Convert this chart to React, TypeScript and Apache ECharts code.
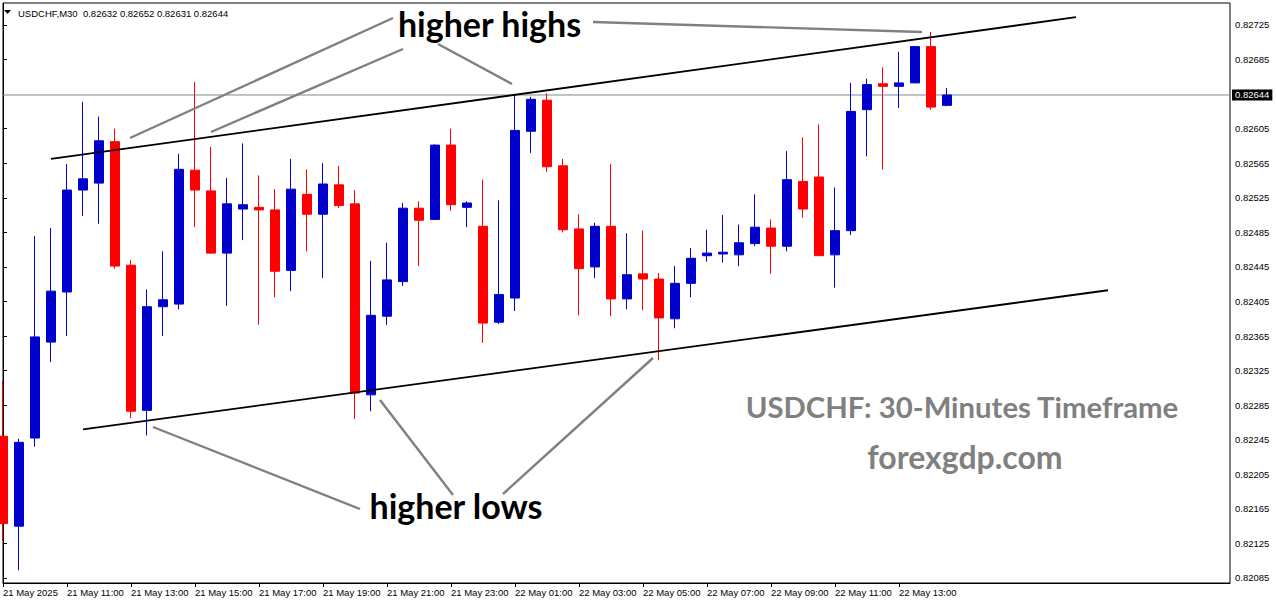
import React, { useEffect, useRef } from 'react';
import * as echarts from 'echarts';

// ---- data ----
const headerText = 'USDCHF,M30  0.82632 0.82652 0.82631 0.82644';
const currentPrice = 0.82644;

const opens = [0.82249,0.82145,0.82247,0.82358,0.82416,0.82534,0.82542,0.82590,0.82447,0.82279,0.82399,0.82402,0.82557,0.82533,0.82461,0.82512,0.82514,0.82511,0.82441,0.82529,0.82506,0.82540,0.82518,0.82297,0.82388,0.82428,0.82513,0.82500,0.82586,0.82514,0.82492,0.82381,0.82409,0.82602,0.82638,0.82562,0.82489,0.82445,0.82492,0.82408,0.82437,0.82431,0.82385,0.82426,0.82458,0.82460,0.82459,0.82472,0.82490,0.82469,0.82544,0.82549,0.82459,0.82487,0.82627,0.82657,0.82654,0.82658,0.82700,0.82632];
const closes = [0.82148,0.82242,0.82364,0.82417,0.82534,0.82547,0.82591,0.82446,0.82278,0.82399,0.82407,0.82558,0.82534,0.82461,0.82518,0.82517,0.82511,0.82440,0.82535,0.82506,0.82541,0.82516,0.82299,0.82389,0.82430,0.82513,0.82499,0.82586,0.82517,0.82519,0.82380,0.82413,0.82603,0.82639,0.82561,0.82488,0.82443,0.82492,0.82408,0.82436,0.82431,0.82386,0.82426,0.82455,0.82461,0.82462,0.82473,0.82491,0.82469,0.82546,0.82512,0.82458,0.82487,0.82625,0.82656,0.82654,0.82658,0.82700,0.82630,0.82644];
const lows = [0.82128,0.82094,0.82237,0.82335,0.82365,0.82504,0.82495,0.82443,0.82270,0.82250,0.82365,0.82396,0.82491,0.82460,0.82400,0.82476,0.82378,0.82410,0.82417,0.82463,0.82432,0.82513,0.82269,0.82278,0.82378,0.82423,0.82446,0.82500,0.82510,0.82491,0.82357,0.82379,0.82394,0.82577,0.82555,0.82485,0.82389,0.82432,0.82388,0.82396,0.82395,0.82337,0.82374,0.82410,0.82451,0.82450,0.82446,0.82469,0.82437,0.82463,0.82502,0.82458,0.82421,0.82482,0.82573,0.82558,0.82629,0.82658,0.82627,0.82631];
const highs = [0.82313,0.82246,0.82481,0.82490,0.82564,0.82636,0.82619,0.82605,0.82453,0.82419,0.82463,0.82576,0.82659,0.82584,0.82548,0.82588,0.82551,0.82535,0.82570,0.82558,0.82565,0.82562,0.82534,0.82452,0.82473,0.82519,0.82521,0.82587,0.82605,0.82521,0.82546,0.82522,0.82644,0.82642,0.82646,0.82570,0.82506,0.82496,0.82564,0.82484,0.82487,0.82438,0.82446,0.82467,0.82488,0.82505,0.82494,0.82529,0.82500,0.82579,0.82595,0.82610,0.82537,0.82658,0.82663,0.82676,0.82694,0.82700,0.82717,0.82652];

const xTickIndex = [0, 4, 8, 12, 16, 20, 24, 28, 32, 36, 40, 44, 48, 52, 56];
const xTickLabels = ['21 May 2025', '21 May 11:00', '21 May 13:00', '21 May 15:00', '21 May 17:00', '21 May 19:00', '21 May 21:00', '21 May 23:00', '22 May 01:00', '22 May 03:00', '22 May 05:00', '22 May 07:00', '22 May 09:00', '22 May 11:00', '22 May 13:00'];
const yTicks = [0.82085, 0.82125, 0.82165, 0.82205, 0.82245, 0.82285, 0.82325, 0.82365, 0.82405, 0.82445, 0.82485, 0.82525, 0.82565, 0.82605, 0.82685, 0.82725];

// channel trendlines: [barIndex, price]
const upperTrend = [[3.0, 0.82570], [67.06, 0.82734]];
const lowerTrend = [[5.0, 0.82257], [69.06, 0.82418]];

const X_MAX = 76.6875;
const Y_MIN = 0.8207921;
const Y_MAX = 0.8275046;

const AXIS_FONT = 'Liberation Sans';
const BIG_FONT = 'Lato';

export default function App() {
  const ref = useRef<HTMLDivElement>(null);

  useEffect(() => {
    if (!ref.current) return;
    const chart = echarts.init(ref.current, null, { renderer: 'svg' });

    const candleData = opens.map((o, i) => [i, o, closes[i], lows[i], highs[i]]);
    const gray = '#808080';
    const grayLine = (x1: number, y1: number, x2: number, y2: number) => ({
      type: 'line',
      shape: { x1, y1, x2, y2 },
      style: { stroke: gray, lineWidth: 2.4 },
      silent: true,
      z: 100,
    });
    const trendSeries = (pts: number[][]) => ({
      type: 'line',
      data: pts,
      symbol: 'none',
      silent: true,
      z: 5,
      lineStyle: { color: '#000000', width: 1.8 },
    });

    chart.setOption({
      animation: false,
      backgroundColor: '#ffffff',
      grid: {
        left: 3,
        right: 46,
        top: 3,
        bottom: 21,
        show: true,
        borderColor: '#000000',
        borderWidth: 1,
        backgroundColor: '#ffffff',
        containLabel: false,
        outerBoundsMode: 'none',
      },
      xAxis: {
        type: 'value',
        min: 0,
        max: X_MAX,
        axisLine: { show: true, onZero: false, lineStyle: { color: '#000000', width: 1 } },
        axisTick: { show: true, length: 4, lineStyle: { color: '#000000' }, customValues: xTickIndex },
        splitLine: { show: false },
        axisLabel: {
          customValues: xTickIndex,
          formatter: (v: number) => {
            const k = xTickIndex.indexOf(Math.round(v));
            return k >= 0 ? xTickLabels[k] : '';
          },
          align: 'left',
          margin: 4,
          color: '#000000',
          fontFamily: AXIS_FONT,
          fontSize: 9.5,
        },
      },
      yAxis: {
        type: 'value',
        position: 'right',
        min: Y_MIN,
        max: Y_MAX,
        scale: true,
        axisLine: { show: true, lineStyle: { color: '#000000', width: 1 } },
        axisTick: { show: true, length: 4, lineStyle: { color: '#000000' }, customValues: yTicks },
        splitLine: { show: false },
        axisLabel: {
          customValues: yTicks,
          formatter: (v: number) => v.toFixed(5),
          margin: 5,
          color: '#000000',
          fontFamily: AXIS_FONT,
          fontSize: 9.5,
        },
      },
      series: [
        {
          type: 'line',
          data: [[0, currentPrice], [X_MAX, currentPrice]],
          symbol: 'none',
          silent: true,
          z: 1,
          lineStyle: { color: '#778899', width: 1 },
          endLabel: {
            show: true,
            formatter: currentPrice.toFixed(5),
            distance: 2,
            backgroundColor: '#000000',
            color: '#ffffff',
            padding: [1, 3, 0, 3],
            fontFamily: AXIS_FONT,
            fontSize: 9.5,
          },
        },
        {
          type: 'candlestick',
          data: candleData,
          encode: { x: 0, y: [1, 2, 3, 4] },
          barWidth: 10,
          clip: true,
          z: 3,
          itemStyle: {
            color: '#0000cc',
            color0: '#ff0000',
            borderColor: '#0000cc',
            borderColor0: '#ff0000',
            borderWidth: 1,
          },
        },
        trendSeries(upperTrend),
        trendSeries(lowerTrend),
      ],
      graphic: [
        {
          type: 'polygon',
          shape: { points: [[4, 10], [11, 10], [7.5, 14]] },
          style: { fill: '#000000' },
          silent: true,
        },
        {
          type: 'text',
          x: 18,
          y: 13.5,
          style: { text: headerText, fill: '#000000', fontFamily: AXIS_FONT, fontSize: 9.5, verticalAlign: 'middle', align: 'left' },
          silent: true,
        },
        grayLine(393, 18, 130, 138),
        grayLine(403, 49, 211, 132),
        grayLine(438, 44, 512, 84),
        grayLine(593, 22, 922, 32),
        grayLine(153, 427, 360, 509),
        grayLine(380, 400, 453, 495),
        grayLine(503, 494, 653, 358),
        {
          type: 'text',
          x: 489.5,
          y: 23,
          z: 101,
          style: { text: 'higher highs', fill: '#000000', fontFamily: BIG_FONT, fontWeight: 'bold', fontSize: 34, align: 'center', verticalAlign: 'middle' },
          silent: true,
        },
        {
          type: 'text',
          x: 456,
          y: 505,
          z: 101,
          style: { text: 'higher lows', fill: '#000000', fontFamily: BIG_FONT, fontWeight: 'bold', fontSize: 34, align: 'center', verticalAlign: 'middle' },
          silent: true,
        },
        {
          type: 'text',
          x: 962,
          y: 406,
          z: 101,
          style: { text: 'USDCHF: 30-Minutes Timeframe', fill: gray, fontFamily: BIG_FONT, fontWeight: 'bold', fontSize: 29.3, align: 'center', verticalAlign: 'middle' },
          silent: true,
        },
        {
          type: 'text',
          x: 965,
          y: 456,
          z: 101,
          style: { text: 'forexgdp.com', fill: gray, fontFamily: BIG_FONT, fontWeight: 'bold', fontSize: 32, align: 'center', verticalAlign: 'middle' },
          silent: true,
        },
      ],
    });

    return () => {
      chart.dispose();
    };
  }, []);

  return (
    <div
      ref={ref}
      style={{ position: 'fixed', left: 0, top: 0, width: 1276, height: 604, background: '#ffffff' }}
    />
  );
}
